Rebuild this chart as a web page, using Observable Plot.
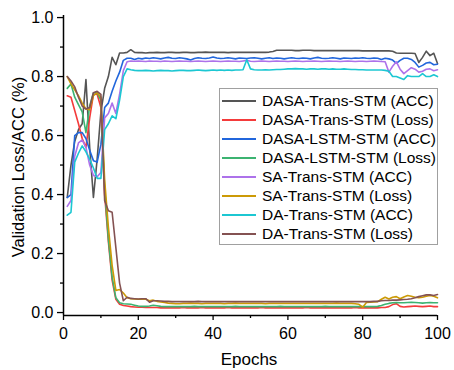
<!DOCTYPE html>
<html><head><meta charset="utf-8">
<script src="https://cdn.jsdelivr.net/npm/d3@7"></script>
<script src="https://cdn.jsdelivr.net/npm/@observablehq/plot@0.6"></script>
<style>
body{margin:0;background:#fff;}
#wrap{position:relative;width:454px;height:370px;font-family:"Liberation Sans",Arial,sans-serif;}
#legend{position:absolute;left:219px;top:88px;width:217px;height:153px;border:1px solid #a0a0a0;background:#fff;padding-top:2px;}
.row{height:19.1px;display:flex;align-items:center;font-size:15.5px;white-space:nowrap;color:#000}
.sw{width:34px;height:2px;margin-left:2px;margin-right:6px;flex:none}
</style></head><body><div id="wrap"></div>
<script>
const seriesNames = ["DASA-Trans-STM (ACC)","DASA-Trans-STM (Loss)","DASA-LSTM-STM (ACC)","DASA-LSTM-STM (Loss)","SA-Trans-STM (ACC)","SA-Trans-STM (Loss)","DA-Trans-STM (ACC)","DA-Trans-STM (Loss)"];
const seriesColors = ["#555555","#f43b3b","#2166dc","#3cb371","#ad72ea","#cc9a06","#1cc7d2","#845252"];
const xTicks = [0,20,40,60,80,100];
const xMinor = [10,30,50,70,90];
const yTicks = [0,0.2,0.4,0.6,0.8,1.0];
const yMinor = [0.1,0.3,0.5,0.7,0.9];

const dasaTransAcc = [
0.39,0.50,0.58,0.62,0.64,0.79,0.56,0.39,0.52,0.68,
0.76,0.80,0.865,0.84,0.88,0.88,0.882,0.891,0.882,0.881,
0.881,0.880,0.881,0.881,0.882,0.881,0.881,0.882,0.882,0.881,
0.881,0.882,0.882,0.881,0.881,0.882,0.882,0.883,0.882,0.882,
0.882,0.882,0.882,0.881,0.882,0.882,0.882,0.882,0.882,0.882,
0.882,0.882,0.882,0.882,0.883,0.885,0.889,0.889,0.889,0.889,
0.889,0.888,0.888,0.889,0.889,0.889,0.888,0.888,0.888,0.888,
0.888,0.888,0.888,0.888,0.888,0.888,0.888,0.888,0.888,0.887,
0.887,0.887,0.887,0.887,0.887,0.887,0.887,0.886,0.880,0.879,
0.879,0.879,0.879,0.878,0.848,0.865,0.886,0.871,0.879,0.844];
const dasaTransLoss = [
0.735,0.73,0.685,0.64,0.59,0.56,0.66,0.74,0.74,0.695,
0.40,0.24,0.11,0.045,0.028,0.024,0.022,0.020,0.019,0.018,
0.018,0.017,0.017,0.017,0.017,0.016,0.016,0.016,0.016,0.016,
0.016,0.017,0.016,0.016,0.016,0.016,0.017,0.016,0.016,0.016,
0.016,0.016,0.016,0.017,0.016,0.016,0.016,0.016,0.016,0.016,
0.016,0.016,0.017,0.016,0.016,0.016,0.016,0.016,0.016,0.016,
0.016,0.016,0.016,0.016,0.017,0.016,0.016,0.016,0.016,0.016,
0.016,0.016,0.016,0.016,0.016,0.016,0.016,0.017,0.016,0.016,
0.016,0.016,0.016,0.016,0.017,0.017,0.020,0.027,0.030,0.021,
0.019,0.020,0.021,0.022,0.021,0.020,0.021,0.022,0.020,0.020];
const dasaLstmAcc = [
0.39,0.40,0.60,0.61,0.61,0.59,0.55,0.515,0.51,0.57,
0.695,0.71,0.75,0.785,0.815,0.855,0.862,0.862,0.858,0.862,
0.860,0.863,0.861,0.864,0.862,0.860,0.863,0.865,0.862,0.861,
0.864,0.862,0.860,0.856,0.861,0.864,0.862,0.861,0.863,0.866,
0.863,0.861,0.862,0.864,0.862,0.860,0.863,0.862,0.861,0.863,
0.864,0.862,0.860,0.862,0.864,0.861,0.863,0.862,0.860,0.862,
0.864,0.862,0.861,0.863,0.862,0.860,0.863,0.865,0.862,0.861,
0.862,0.864,0.862,0.860,0.863,0.862,0.861,0.863,0.862,0.864,
0.862,0.861,0.863,0.862,0.858,0.862,0.860,0.856,0.845,0.855,
0.862,0.862,0.858,0.848,0.832,0.838,0.846,0.848,0.840,0.842];
const dasaLstmLoss = [
0.76,0.775,0.73,0.705,0.68,0.61,0.70,0.745,0.745,0.72,
0.42,0.25,0.12,0.05,0.033,0.030,0.029,0.028,0.025,0.022,
0.021,0.021,0.022,0.025,0.023,0.021,0.020,0.020,0.020,0.020,
0.020,0.020,0.020,0.020,0.021,0.020,0.020,0.020,0.020,0.020,
0.020,0.020,0.020,0.020,0.020,0.021,0.020,0.020,0.020,0.020,
0.020,0.020,0.020,0.020,0.020,0.020,0.020,0.021,0.020,0.020,
0.020,0.020,0.020,0.020,0.020,0.020,0.020,0.020,0.020,0.021,
0.020,0.020,0.020,0.020,0.020,0.020,0.020,0.020,0.020,0.020,
0.020,0.020,0.020,0.021,0.024,0.028,0.031,0.033,0.034,0.033,
0.033,0.034,0.035,0.034,0.033,0.032,0.033,0.034,0.033,0.033];
const saTransAcc = [
0.36,0.38,0.53,0.575,0.585,0.56,0.50,0.465,0.46,0.475,
0.66,0.675,0.71,0.675,0.74,0.82,0.85,0.853,0.852,0.853,
0.852,0.851,0.853,0.852,0.852,0.851,0.853,0.852,0.851,0.852,
0.853,0.852,0.852,0.851,0.852,0.853,0.852,0.851,0.852,0.853,
0.852,0.851,0.852,0.853,0.852,0.852,0.851,0.853,0.855,0.852,
0.851,0.852,0.853,0.852,0.851,0.852,0.853,0.852,0.852,0.851,
0.852,0.853,0.852,0.851,0.852,0.852,0.853,0.852,0.851,0.852,
0.853,0.852,0.852,0.851,0.852,0.853,0.852,0.851,0.852,0.852,
0.851,0.852,0.853,0.852,0.851,0.850,0.815,0.835,0.850,0.825,
0.810,0.820,0.830,0.825,0.815,0.818,0.825,0.826,0.820,0.823];
const saTransLoss = [
0.80,0.775,0.755,0.735,0.71,0.69,0.688,0.735,0.745,0.73,
0.45,0.29,0.16,0.075,0.078,0.066,0.050,0.047,0.046,0.045,
0.046,0.045,0.040,0.042,0.038,0.036,0.034,0.032,0.031,0.030,
0.030,0.031,0.031,0.032,0.031,0.031,0.030,0.031,0.031,0.031,
0.031,0.031,0.030,0.031,0.031,0.032,0.031,0.031,0.031,0.031,
0.031,0.031,0.031,0.030,0.031,0.031,0.031,0.031,0.031,0.031,
0.031,0.031,0.031,0.031,0.031,0.031,0.031,0.031,0.031,0.031,
0.031,0.031,0.032,0.031,0.031,0.031,0.031,0.030,0.028,0.018,
0.034,0.035,0.036,0.037,0.045,0.052,0.046,0.052,0.054,0.047,
0.053,0.058,0.055,0.052,0.050,0.052,0.055,0.058,0.055,0.050];
const daTransAcc = [
0.33,0.34,0.51,0.54,0.565,0.545,0.52,0.49,0.455,0.455,
0.62,0.64,0.667,0.657,0.72,0.80,0.826,0.823,0.821,0.820,
0.820,0.821,0.820,0.819,0.820,0.821,0.820,0.820,0.819,0.820,
0.821,0.821,0.820,0.820,0.821,0.822,0.821,0.820,0.821,0.822,
0.821,0.822,0.821,0.822,0.821,0.822,0.822,0.823,0.857,0.826,
0.823,0.822,0.822,0.823,0.822,0.823,0.824,0.824,0.825,0.826,
0.826,0.827,0.826,0.826,0.825,0.826,0.826,0.825,0.826,0.826,
0.825,0.826,0.825,0.825,0.826,0.825,0.824,0.824,0.823,0.823,
0.822,0.822,0.822,0.822,0.822,0.821,0.818,0.800,0.800,0.795,
0.790,0.803,0.800,0.800,0.800,0.810,0.800,0.800,0.806,0.800];
const daTransLoss = [
0.80,0.785,0.765,0.73,0.70,0.69,0.695,0.745,0.75,0.74,
0.38,0.345,0.34,0.22,0.10,0.04,0.052,0.048,0.047,0.046,
0.047,0.047,0.035,0.040,0.040,0.039,0.038,0.038,0.037,0.037,
0.037,0.037,0.037,0.037,0.037,0.038,0.037,0.037,0.037,0.037,
0.037,0.037,0.037,0.037,0.037,0.037,0.037,0.037,0.037,0.037,
0.037,0.037,0.037,0.037,0.037,0.037,0.037,0.037,0.037,0.037,
0.037,0.037,0.037,0.037,0.037,0.037,0.037,0.037,0.037,0.037,
0.037,0.037,0.037,0.037,0.037,0.037,0.037,0.037,0.037,0.037,
0.037,0.037,0.038,0.038,0.040,0.041,0.041,0.042,0.042,0.043,
0.044,0.045,0.047,0.050,0.054,0.057,0.060,0.060,0.058,0.061];

const allSeries = [dasaTransAcc,dasaTransLoss,dasaLstmAcc,dasaLstmLoss,saTransAcc,saTransLoss,daTransAcc,daTransLoss];
const epochs = allSeries[0].map((_, i) => i + 1);

const font = '"Liberation Sans", Arial, sans-serif';
const lineMarks = allSeries.map((s, k) =>
  Plot.line(s.map((v, i) => ({epoch: epochs[i], value: v})), {x: "epoch", y: "value", stroke: seriesColors[k], strokeWidth: 1.6})
);

const plot = Plot.plot({
  width: 454, height: 370,
  marginLeft: 63, marginRight: 17, marginTop: 15, marginBottom: 55,
  x: {domain: [0, 100]},
  y: {domain: [-0.01, 1.007]},
  style: {fontFamily: font, fontSize: "16px", color: "#000", background: "#fff", overflow: "visible"},
  marks: [
    Plot.axisY(yTicks, {tickSize: 6, tickPadding: 4, tickFormat: d => d.toFixed(1), label: null, strokeWidth: 1.3}),
    Plot.axisY(yMinor, {tickSize: 3, text: null, label: null, strokeWidth: 1.3}),
    Plot.axisX(xTicks, {tickSize: 5, tickPadding: 7, label: null, strokeWidth: 1.3}),
    Plot.axisX(xMinor, {tickSize: 3, text: null, label: null, strokeWidth: 1.3}),
    ...lineMarks,
    Plot.ruleX([0], {y1: -0.01, y2: 1.007, strokeWidth: 1.5, stroke: "#000"}),
    Plot.ruleY([-0.01], {x1: 0, x2: 100, strokeWidth: 1.5, stroke: "#000"})
  ]
});

const svg = d3.select(plot);
svg.append("text").attr("transform", "translate(24,167) rotate(-90)")
  .attr("text-anchor", "middle").attr("font-size", "16.5px").attr("font-family", font)
  .attr("fill", "#000").text("Validation Loss/ACC (%)");
svg.append("text").attr("x", 249).attr("y", 365)
  .attr("text-anchor", "middle").attr("font-size", "17px").attr("font-family", font)
  .attr("fill", "#000").text("Epochs");

const wrap = document.getElementById("wrap");
wrap.appendChild(plot);
const legend = document.createElement("div");
legend.id = "legend";
seriesNames.forEach((name, k) => {
  const row = document.createElement("div");
  row.className = "row";
  const sw = document.createElement("span");
  sw.className = "sw";
  sw.style.background = seriesColors[k];
  const t = document.createElement("span");
  t.textContent = name;
  row.appendChild(sw); row.appendChild(t);
  legend.appendChild(row);
});
wrap.appendChild(legend);
</script></body></html>
